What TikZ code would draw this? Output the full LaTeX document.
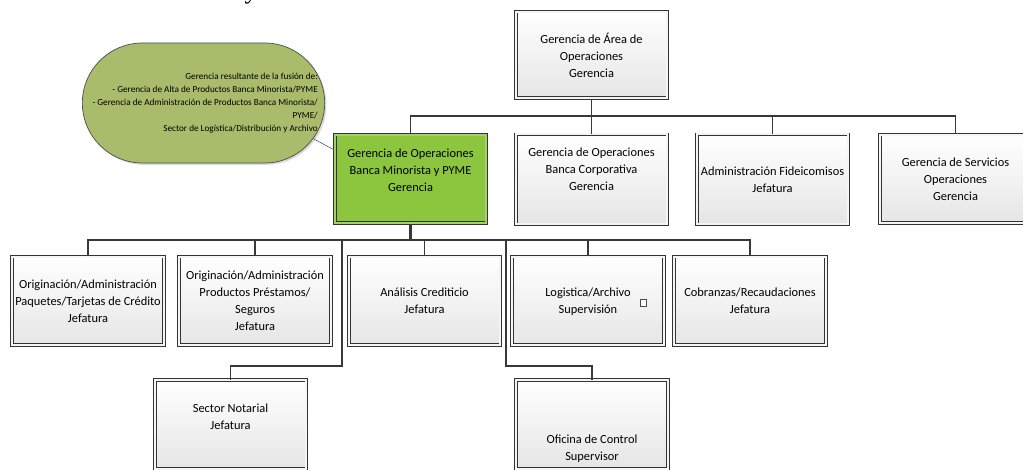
\documentclass[tikz,border=0pt]{standalone}
\usepackage{fontspec}
\setmainfont{Carlito}
\newfontfamily\titlefont{Liberation Serif}
\usetikzlibrary{shapes.misc,shadows}

\definecolor{edge}{HTML}{333333}
\definecolor{wire}{HTML}{383838}
\definecolor{leafgreen}{HTML}{8CC63F}
\definecolor{olive}{HTML}{A8BC6C}

\tikzset{
  orgbox/.style={rectangle, draw=edge, line width=0.8pt,
    double=black!4, double distance=2pt,
    top color=white, bottom color=black!10,
    minimum width=151.6pt, minimum height=88.6pt,
    drop shadow={shadow xshift=1.8pt, shadow yshift=-1.8pt, fill=black, opacity=0.18},
    font=\fontsize{12.4}{17}\selectfont, align=center, inner sep=2pt},
  mainbox/.style={orgbox, top color=leafgreen, bottom color=leafgreen,
    double=leafgreen!80!white},
  boxtext/.style={font=\fontsize{12.4}{17}\selectfont, align=center, inner sep=0pt},
  wireline/.style={draw=wire, line width=1.4pt},
  trunk/.style={draw=wire, line width=2.5pt},
  note/.style={rounded rectangle, draw=black!70, line width=0.7pt, fill=olive,
    minimum width=249pt, minimum height=120pt,
    drop shadow={shadow xshift=1.8pt, shadow yshift=-1.8pt, fill=black, opacity=0.15}},
  notetext/.style={font=\fontsize{9.2}{13}\selectfont, align=right, inner sep=0pt},
  tinybox/.style={rectangle, draw=black!70, line width=0.6pt, fill=white,
    minimum width=6pt, minimum height=7pt, inner sep=0pt,
    drop shadow={shadow xshift=1pt, shadow yshift=-1pt, fill=black, opacity=0.3}}
}

\begin{document}
\begin{tikzpicture}[x=1pt,y=-1pt]
\useasboundingbox (0,0) rectangle (1023,470);

% tail of the heading line above the chart
\node[font=\titlefont\fontsize{26}{30}\selectfont, anchor=base, inner sep=0pt] (heading) at (251,-1) {y};

% bus levels
\coordinate (b1) at (0,116);
\coordinate (b2) at (0,240);
\coordinate (b3) at (0,366);

% top level
\node[orgbox, minimum height=86.6pt] (top) at (591.5,55) {Gerencia de Área de\\Operaciones\\Gerencia};

% second level
\node[mainbox, minimum height=88.6pt] (gr) at (410.5,179) {};
\node[boxtext] (grt) at ([yshift=9pt]gr.center) {Gerencia de Operaciones\\Banca Minorista y PYME\\Gerencia};
\node[orgbox, minimum height=90pt] (corp) at (591.5,179.5) {};
\node[boxtext] (corpt) at ([yshift=10pt]corp.center) {Gerencia de Operaciones\\Banca Corporativa\\Gerencia};
\node[orgbox, minimum height=90pt] (fid) at (772.5,179.5) {Administración Fideicomisos\\Jefatura};
\node[orgbox] (serv) at (955.5,179) {Gerencia de Servicios\\Operaciones\\Gerencia};

% third level
\node[orgbox] (r1) at (88,301) {Originación/Administración\\Paquetes/Tarjetas de Crédito\\Jefatura};
\node[orgbox] (r2) at (255,301) {Originación/Administración\\Productos Préstamos/\\Seguros\\Jefatura};
\node[orgbox] (r3) at (424.5,301) {Análisis Crediticio\\Jefatura};
\node[orgbox] (r4) at (588,301) {};
\node[boxtext] (r4t) at (588,302) {Logistica/Archivo\\Supervisión};
\node[tinybox] (r4m) at (643,303) {};
\node[orgbox] (r5) at (750,301) {Cobranzas/Recaudaciones\\Jefatura};

% fourth level
\node[orgbox] (nota) at (230.5,424.5) {};
\node[boxtext] (notat) at (230.5,417) {Sector Notarial\\Jefatura};
\node[orgbox] (ofi) at (592,424.5) {};
\node[boxtext] (ofit) at (592,449) {Oficina de Control\\Supervisor};

% note balloon
\node[note] (st) at (203.5,103) {};
\node[notetext, anchor=east] (stt) at (318,103) {Gerencia resultante de la fusión de:\\
- Gerencia de Alta de Productos Banca Minorista/PYME\\
- Gerencia de Administración de Productos Banca Minorista/\\
PYME/\\
Sector de Logística/Distribución y Archivo};
\draw[draw=black!65, line width=0.6pt] (st.-18) -- ([yshift=29pt]gr.west);

% connectors: top level to second level
\draw[wireline] (top.south) -- (top.south |- b1);
\draw[wireline] (gr.north) -- (gr.north |- b1) -- (serv.north |- b1) -- (serv.north);
\draw[wireline] (corp.north) -- (corp.north |- b1);
\draw[wireline] (fid.north) -- (fid.north |- b1);

% connectors: second level to third level
\draw[trunk] (gr.south) -- (gr.south |- b2);
\draw[wireline] (r1.north) -- (r1.north |- b2) -- (r5.north |- b2) -- (r5.north);
\draw[wireline] (r2.north) -- (r2.north |- b2);
\draw[wireline] (r3.north) -- (r3.north |- b2);
\draw[wireline] (r4.north) -- (r4.north |- b2);

% connectors: down to fourth level
\coordinate (k1) at (342,240);
\coordinate (k2) at (506,240);
\draw[wireline] (k1) -- (k1 |- b3) -| (nota.north);
\draw[wireline] (k2) -- (k2 |- b3) -| (ofi.north);
\end{tikzpicture}
\end{document}
